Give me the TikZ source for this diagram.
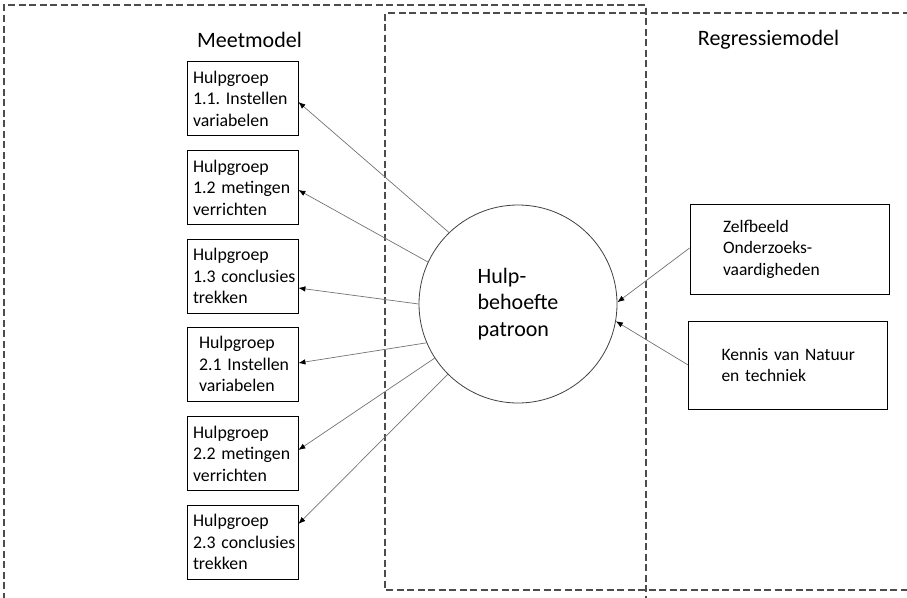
\documentclass[tikz,border=0pt]{standalone}
\usepackage{fontspec}
\setmainfont{Carlito}
\usetikzlibrary{arrows.meta}
\newcommand{\bl}[1]{\mbox{#1}}
\begin{document}
\begin{tikzpicture}[x=1pt,y=-1pt,
  frame/.style={draw=black!70, line width=1.2pt, dash pattern=on 7pt off 3.5pt},
  lbox/.style={draw, line width=0.8pt, rectangle, text width=99pt, inner xsep=6pt, inner ysep=0pt,
    minimum height=74pt, align=left, font=\fontsize{17.8}{21.5}\selectfont\frenchspacing},
  rbox/.style={draw, line width=0.8pt, rectangle, text width=133pt, inner xsep=33pt, inner ysep=0pt,
    align=left, font=\fontsize{17.5}{21.5}\selectfont\frenchspacing},
  title/.style={font=\fontsize{22}{26}\selectfont, inner sep=0pt},
  conn/.style={draw=black!55, line width=0.7pt, -{Latex[black,length=7pt,width=5.5pt]}}
]
\useasboundingbox (0,0) rectangle (907,597);
\clip (0,0) rectangle (907,597);
% dashed frames
\draw[frame] (4,610) -- (4,5) -- (646,5) -- (646,610);
\draw[frame] (920,13) -- (385,13) -- (385,590) -- (920,590);
% titles
\node[title] (tm) at (249.5,40) {Meetmodel};
\node[title] (tr) at (768.5,40) {Regressiemodel};
% central circle
\node[circle, draw=black!75, line width=0.8pt, minimum size=198pt, inner sep=0pt, align=left,
  font=\fontsize{22}{26.5}\selectfont] (hb) at (518,304) {Hulp-\\behoefte\\patroon};
% left boxes
\node[lbox] (b1) at (242.5,98.5) {\bl{Hulpgroep}\\\bl{1.1. Instellen}\\\bl{variabelen}};
\node[lbox] (b2) at (242.5,187.5) {\bl{Hulpgroep}\\\bl{1.2 metingen}\\\bl{verrichten}};
\node[lbox] (b3) at (242.5,276) {\bl{Hulpgroep}\\\bl{1.3 conclusies}\\\bl{trekken}};
\node[lbox, text width=87pt, inner xsep=12pt] (b4) at (242.5,364) {\bl{Hulpgroep}\\\bl{2.1 Instellen}\\\bl{variabelen}};
\node[lbox] (b5) at (242.5,453.5) {\bl{Hulpgroep}\\\bl{2.2 metingen}\\\bl{verrichten}};
\node[lbox] (b6) at (242.5,542) {\bl{Hulpgroep}\\\bl{2.3 conclusies}\\\bl{trekken}};
% right boxes
\node[rbox, minimum height=90pt] (za) at (789.5,249) {\bl{Zelfbeeld}\\\bl{Onderzoeks-}\\\bl{vaardigheden}};
\node[rbox, minimum height=88pt] (zb) at (788,365) {\bl{Kennis van Natuur}\\\bl{en techniek}};
% connectors
\draw[conn] (hb.134.7) -- ([yshift=-3.5pt]b1.east);
\draw[conn] (hb.155.8) -- ([yshift=-2.5pt]b2.east);
\draw[conn] (hb.180) -- ([yshift=-12pt]b3.east);
\draw[conn] (hb.203.2) -- ([yshift=1pt]b4.east);
\draw[conn] (hb.213) -- ([yshift=3.5pt]b5.east);
\draw[conn] (hb.225.4) -- ([yshift=18pt]b6.east);
\draw[conn] ([yshift=1pt]za.west) -- (hb.1);
\draw[conn] (zb.west) -- (hb.-10);
\end{tikzpicture}
\end{document}
